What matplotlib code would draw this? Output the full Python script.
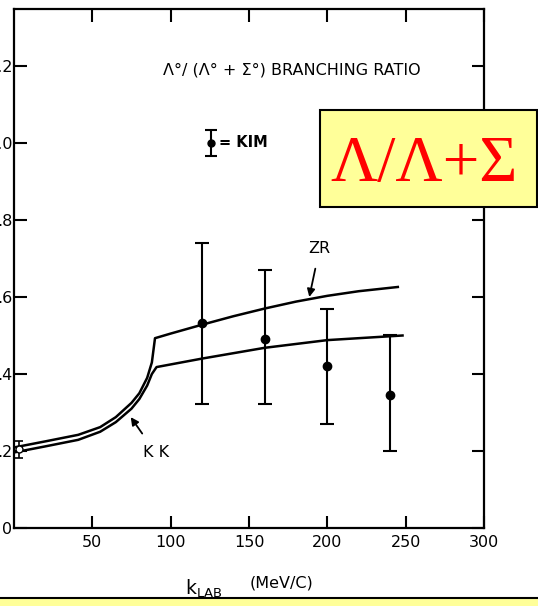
import matplotlib.pyplot as plt
from matplotlib.patches import Rectangle

# === data ===
zr_x = [1, 20, 41, 55, 65, 75, 80, 85, 88, 90, 100, 120, 140, 160, 180, 200, 220, 245]
zr_y = [0.21, 0.225, 0.242, 0.262, 0.288, 0.325, 0.35, 0.39, 0.43, 0.493,
        0.505, 0.528, 0.55, 0.57, 0.588, 0.603, 0.615, 0.626]

kk_x = [1, 20, 41, 55, 65, 75, 80, 85, 88, 91, 120, 160, 200, 248]
kk_y = [0.197, 0.212, 0.229, 0.25, 0.275, 0.31, 0.335, 0.37, 0.40, 0.418,
        0.44, 0.468, 0.488, 0.50]

kim_x = [120, 160, 200, 240]
kim_y = [0.532, 0.49, 0.42, 0.345]
kim_lo = [0.322, 0.322, 0.27, 0.20]
kim_hi = [0.74, 0.67, 0.57, 0.50]

low_x = [3.5]
low_y = [0.205]
low_err = [0.022]

xticks = [50, 100, 150, 200, 250, 300]
yticks = [0, 0.2, 0.4, 0.6, 0.8, 1.0, 1.2]
ytick_labels = ["0", ".2", ".4", ".6", ".8", "1.0", "1.2"]

# === figure ===
fig = plt.figure(figsize=(5.38, 6.06), dpi=100)
ax = fig.add_axes([14 / 538, 78 / 606, 470 / 538, 519 / 606])

ax.plot(zr_x, zr_y, color="black", lw=1.8)
ax.plot(kk_x, kk_y, color="black", lw=1.8)

yerr = [[y - l for y, l in zip(kim_y, kim_lo)], [h - y for y, h in zip(kim_y, kim_hi)]]
ax.errorbar(kim_x, kim_y, yerr=yerr, fmt="o", color="black", ms=6,
            capsize=5, elinewidth=1.5, capthick=1.5)
ax.errorbar(low_x, low_y, yerr=low_err, fmt="o", color="black", mfc="white",
            ms=5, capsize=3, elinewidth=1.2, capthick=1.2)

# legend-like symbol
ax.errorbar([125.5], [1.0], yerr=[0.035], fmt="o", color="black", ms=5,
            capsize=4, elinewidth=1.5, capthick=1.5)
ax.text(131, 1.0, "= KIM", fontsize=10.5, fontweight="bold", va="center", ha="left")

ax.text(95, 1.19, "Λ°/ (Λ° + Σ°) BRANCHING RATIO", fontsize=11.5,
        va="center", ha="left")

# curve labels
ax.annotate("ZR", xy=(188.5, 0.60), xytext=(195, 0.725), fontsize=11.5,
            ha="center", va="center",
            arrowprops=dict(arrowstyle="-|>", color="black", lw=1.3, shrinkA=7, shrinkB=0))
ax.annotate("K K", xy=(74.5, 0.288), xytext=(90.5, 0.195), fontsize=11.5,
            ha="center", va="center",
            arrowprops=dict(arrowstyle="-|>", color="black", lw=1.3, shrinkA=8, shrinkB=0))

ax.set_xlim(0, 300)
ax.set_ylim(0, 1.348)
ax.set_xticks(xticks)
ax.set_yticks(yticks)
ax.set_yticklabels(ytick_labels)
ax.tick_params(direction="in", length=9, width=1.5, labelsize=11.5,
               top=True, right=True)
ax.tick_params(axis="y", pad=1)
ax.tick_params(axis="x", pad=5)
for s in ax.spines.values():
    s.set_linewidth(1.6)

fig.text(185 / 538, 1 - 589 / 606, r"k$_{\mathrm{LAB}}$", fontsize=13.5, va="center", ha="left")
fig.text(250 / 538, 1 - 583 / 606, "(MeV/C)", fontsize=11.5, va="center", ha="left")

# yellow overlay box
fig.patches.append(Rectangle((320 / 538, 1 - 207 / 606), 217 / 538, 97 / 606,
                             transform=fig.transFigure, facecolor="#FFFF99",
                             edgecolor="black", lw=1.5, zorder=5))
fig.text(424 / 538, 1 - 165 / 606, "Λ/Λ+Σ", fontsize=47, color="red",
         family="Liberation Serif", ha="center", va="center", zorder=6)

# yellow strip at bottom
fig.patches.append(Rectangle((-0.01, -0.01), 1.02, 8 / 606 + 0.01,
                             transform=fig.transFigure, facecolor="#FFFF99",
                             edgecolor="black", lw=1.5, zorder=5))

fig.savefig("out.png", dpi=100)
